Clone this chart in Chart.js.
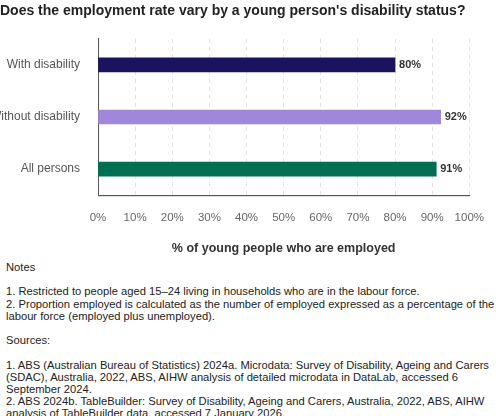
<!DOCTYPE html>
<html><head><meta charset="utf-8">
<script src="https://cdn.jsdelivr.net/npm/chart.js@4"></script>
<style>
body{margin:0;background:#fff;font-family:"Liberation Sans",Arial,sans-serif;}
#wrap{position:absolute;left:0;top:0;width:500px;height:260px;}
#notes{position:absolute;left:6px;top:261px;width:492px;font-size:11.2px;line-height:12.2px;color:#222;}
#notes p{margin:0;}
</style></head><body>
<div id="wrap"><canvas id="c"></canvas></div>
<div id="notes">
<p>Notes</p><p>&nbsp;</p>
<p>1. Restricted to people aged 15–24 living in households who are in the labour force.</p>
<p>2. Proportion employed is calculated as the number of employed expressed as a percentage of the labour force (employed plus unemployed).</p>
<p>&nbsp;</p><p>Sources:</p><p>&nbsp;</p>
<p>1. ABS (Australian Bureau of Statistics) 2024a. Microdata: Survey of Disability, Ageing and Carers (SDAC), Australia, 2022, ABS, AIHW analysis of detailed microdata in DataLab, accessed 6 September 2024.</p>
<p>2. ABS 2024b. TableBuilder: Survey of Disability, Ageing and Carers, Australia, 2022, ABS, AIHW analysis of TableBuilder data, accessed 7 January 2026.</p>
</div>
<script>
const categories=["With disability","Without disability","All persons"];
const values=[80,92.3,91.1];
const valueLabels=["80%","92%","91%"];
const colors=["#1b1260","#a087d9","#006f52"];
const labelPlugin={id:"vl",afterDatasetsDraw(ch){const ctx=ch.ctx;const m=ch.getDatasetMeta(0);ctx.save();ctx.font="bold 11px 'Liberation Sans',Arial";ctx.fillStyle="#333";ctx.textBaseline="middle";m.data.forEach((b,i)=>ctx.fillText(valueLabels[i],b.x+4,b.y));
const a=ch.chartArea;ctx.strokeStyle="#555";ctx.lineWidth=1;ctx.beginPath();ctx.moveTo(a.left,a.bottom+0.5);ctx.lineTo(a.right,a.bottom+0.5);ctx.stroke();ctx.restore();}};
new Chart(document.getElementById("c"),{type:"bar",
data:{labels:categories,datasets:[{data:values,backgroundColor:colors,borderWidth:0,barThickness:14}]},
options:{indexAxis:"y",responsive:true,maintainAspectRatio:false,animation:false,
layout:{padding:{left:0,right:7,top:0}},
plugins:{legend:{display:false},tooltip:{enabled:false},
title:{display:true,text:"Does the employment rate vary by a young person's disability status?",align:"start",color:"#222",font:{size:14,weight:"bold",family:"'Liberation Sans',Arial"},padding:{top:3,bottom:19}}},
scales:{x:{min:0,max:100,ticks:{stepSize:10,callback:v=>v+"%",color:"#666",font:{size:11.5,family:"'Liberation Sans',Arial"},padding:16},
grid:{color:"#e3e3e3",drawTicks:false},border:{display:true,color:"#555",dash:[4,4]},
title:{display:true,text:"% of young people who are employed",color:"#333",font:{size:12.5,weight:"bold",family:"'Liberation Sans',Arial"},padding:{top:0}}},
y:{ticks:{color:"#555",font:{size:12,family:"'Liberation Sans',Arial"},padding:10},grid:{display:false},border:{color:"#555"},afterFit(s){s.width=98;}}}},
plugins:[labelPlugin]});
</script></body></html>
